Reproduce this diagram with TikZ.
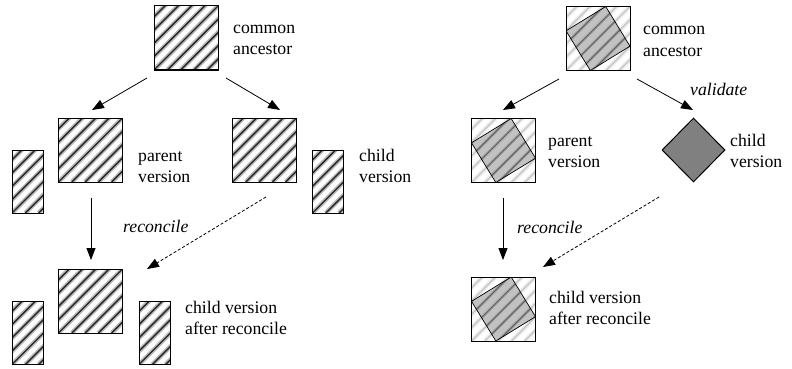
\documentclass[tikz,border=0pt]{standalone}
\usepackage{fontspec}
\setmainfont{Liberation Serif}
\usetikzlibrary{arrows.meta,calc,shapes.geometric}

% diagonal stripes inside a node: #1 soft edge colour, #2 core colour
\newcommand{\hatchlines}[2]{%
  \foreach \k in {-6,...,6}{%
    \draw[line width=4.4pt,#1] ($(path picture bounding box.south west)+(\k*13.3pt,0pt)$) -- ++(80pt,80pt);
    \draw[line width=1.4pt,#2] ($(path picture bounding box.south west)+(\k*13.3pt,0pt)$) -- ++(80pt,80pt);
  }}

\begin{document}
\begin{tikzpicture}[x=1pt, y=-1pt,
  every node/.style={font=\fontsize{17.7}{21}\selectfont},
  hatched/.style={draw, line width=1pt, inner sep=0pt, minimum width=64pt, minimum height=64pt,
    path picture={\hatchlines{black!28}{black!85}}},
  slim/.style={hatched, minimum width=31pt, minimum height=63pt},
  merged/.style={draw, line width=1pt, inner sep=0pt, minimum width=64pt, minimum height=64pt,
    path picture={
      \coordinate (nw) at (path picture bounding box.north west);
      \coordinate (ne) at (path picture bounding box.north east);
      \coordinate (se) at (path picture bounding box.south east);
      \coordinate (sw) at (path picture bounding box.south west);
      \hatchlines{black!7}{black!22}
      \begin{scope}
        \clip ($(nw)!.62!(ne)$) -- ($(ne)!.62!(se)$) -- ($(se)!.62!(sw)$) -- ($(sw)!.62!(nw)$) -- cycle;
        \fill[black!24] (sw) rectangle (ne);
        \foreach \k in {-6,...,6}{%
          \draw[line width=3pt,black!36] ($(sw)+(\k*13.3pt,0pt)$) -- ++(80pt,80pt);
          \draw[line width=1pt,black!62] ($(sw)+(\k*13.3pt,0pt)$) -- ++(80pt,80pt);
        }
      \end{scope}
      \draw[line width=.7pt] ($(nw)!.62!(ne)$) -- ($(ne)!.62!(se)$) -- ($(se)!.62!(sw)$) -- ($(sw)!.62!(nw)$) -- cycle;
    }},
  valid/.style={diamond, draw, line width=1pt, fill=black!50, inner sep=0pt, minimum width=63pt, minimum height=64pt},
  txt/.style={anchor=base west, inner sep=0pt},
  arrow/.style={-{Triangle[length=12pt,width=9pt]}, line width=.8pt},
  dashedarrow/.style={arrow, dash pattern=on 3pt off 2pt}
]
\useasboundingbox (0,0) rectangle (792,369);
\fill[white] (0,0) rectangle (792,369);

% ---- left: text based reconcile ----
\node[hatched] (anc)  at (186,38)    {};
\node[hatched] (par)  at (90.5,150)  {};
\node[slim]    (parx) at (27.5,181.5) {};
\node[hatched] (chi)  at (264.5,150) {};
\node[slim]    (chix) at (328,181.5) {};
\node[hatched] (rec)  at (90.5,301)  {};
\node[slim]    (recl) at (27.5,333)  {};
\node[slim]    (recr) at (154.5,333) {};

\node[txt] (ancT) at (233,34)  {\begin{tabular}[t]{@{}l@{}}common\\ancestor\end{tabular}};
\node[txt] (parT) at (138,161) {\begin{tabular}[t]{@{}l@{}}parent\\version\end{tabular}};
\node[txt] (chiT) at (359,161) {\begin{tabular}[t]{@{}l@{}}child\\version\end{tabular}};
\node[txt] (recT) at (185,313) {\begin{tabular}[t]{@{}l@{}}child version\\after reconcile\end{tabular}};
\node[txt] (recA) at (123,232) {\itshape reconcile};

\coordinate (a1) at (147,78);  \coordinate (a2) at (92,110);
\coordinate (b1) at (226,78);  \coordinate (b2) at (280,110);
\coordinate (c1) at (91,198);  \coordinate (c2) at (91,260);
\coordinate (d1) at (266,197); \coordinate (d2) at (147,269);
\draw[arrow] (a1) -- (a2);
\draw[arrow] (b1) -- (b2);
\draw[arrow] (c1) -- (c2);
\draw[dashedarrow] (d1) -- (d2);

% ---- right: model based reconcile ----
\node[merged] (anc2) at (598,38.5)  {};
\node[merged] (par2) at (503.5,150.5) {};
\node[valid]  (chi2) at (693.5,150) {};
\node[merged] (rec2) at (503.5,309) {};

\node[txt] (anc2T) at (643,35)  {\begin{tabular}[t]{@{}l@{}}common\\ancestor\end{tabular}};
\node[txt] (par2T) at (548,146) {\begin{tabular}[t]{@{}l@{}}parent\\version\end{tabular}};
\node[txt] (chi2T) at (730,146) {\begin{tabular}[t]{@{}l@{}}child\\version\end{tabular}};
\node[txt] (rec2T) at (549,303) {\begin{tabular}[t]{@{}l@{}}child version\\after reconcile\end{tabular}};
\node[txt] (rec2A) at (517,233) {\itshape reconcile};
\node[txt] (valA)  at (690,95)  {\itshape validate};

\coordinate (e1) at (559,79);  \coordinate (e2) at (503,110);
\coordinate (f1) at (637,79);  \coordinate (f2) at (693,110);
\coordinate (g1) at (503,198); \coordinate (g2) at (503,260);
\coordinate (h1) at (659,197); \coordinate (h2) at (543,267);
\draw[arrow] (e1) -- (e2);
\draw[arrow] (f1) -- (f2);
\draw[arrow] (g1) -- (g2);
\draw[dashedarrow] (h1) -- (h2);
\end{tikzpicture}
\end{document}
